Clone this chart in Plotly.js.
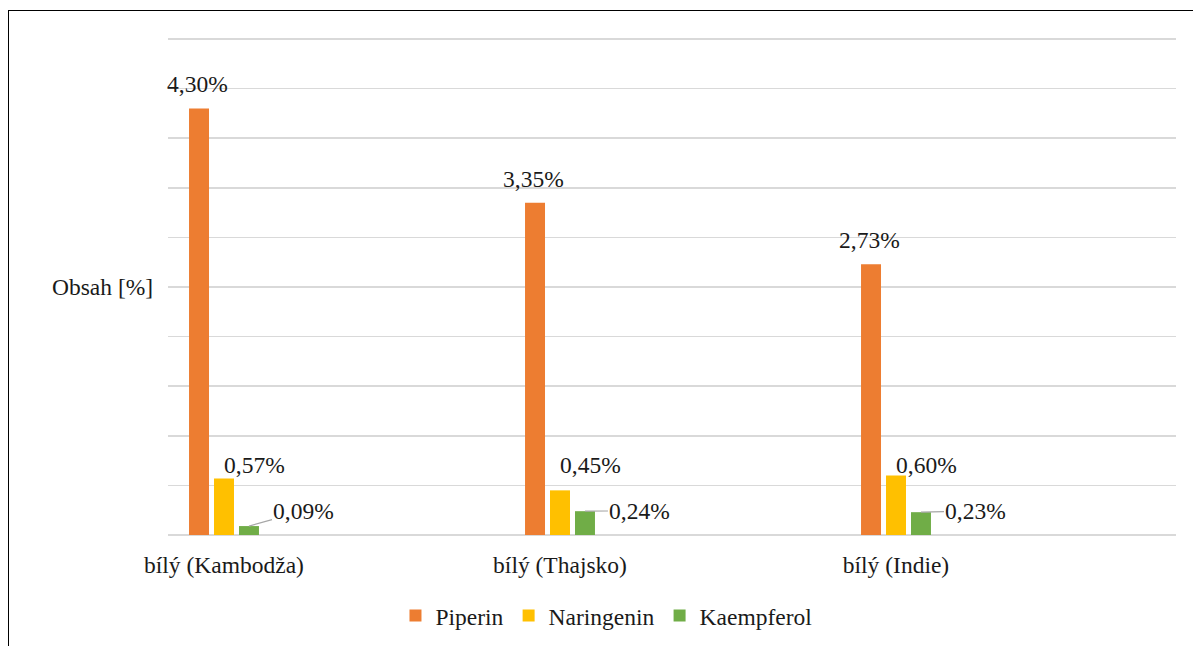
<!DOCTYPE html>
<html>
<head>
<meta charset="utf-8">
<script src="https://cdn.plot.ly/plotly-3.0.1.min.js"></script>
<style>
  html, body { margin: 0; padding: 0; background: #fff; }
  #wrap { position: relative; width: 1193px; height: 646px; overflow: hidden; }
  #chart { position: absolute; left: 0; top: 0; width: 1193px; height: 646px; }
  #frame { position: absolute; left: 8px; top: 10px; width: 1400px; height: 900px;
           border-top: 1.5px solid #000; border-left: 1.5px solid #000; pointer-events: none; }
</style>
</head>
<body>
<div id="wrap">
  <div id="chart"></div>
  <div id="frame"></div>
</div>
<script>
// Obsah sledovaných látek v bílém pepři podle původu
const categories = ['bílý (Kambodža)', 'bílý (Thajsko)', 'bílý (Indie)'];
const seriesNames = ['Piperin', 'Naringenin', 'Kaempferol'];
const piperin = [4.30, 3.35, 2.73];
const naringenin = [0.57, 0.45, 0.60];
const kaempferol = [0.09, 0.24, 0.23];
const colors = ['#ED7D31', '#FFC000', '#70AD47'];

const FONT = 'Liberation Serif, serif';
const FS = 23.5;
const BARGAP = 0.777;
const GROUPGAP = 0.2;

const seriesValues = [piperin, naringenin, kaempferol];
const fmt = v => v.toFixed(2).replace('.', ',') + '%';

const traces = seriesValues.map((vals, s) => ({
  type: 'bar',
  name: seriesNames[s],
  x: categories,
  y: vals,
  marker: { color: colors[s] },
  hoverinfo: 'skip'
}));

// horizontal offset of each bar inside its group, in category units
const slot = (1 - BARGAP) / seriesValues.length;
const offsetOf = s => (s - (seriesValues.length - 1) / 2) * slot;

const annotations = [];
categories.forEach((c, i) => {
  // Piperin: centred above the bar
  annotations.push({
    x: i + offsetOf(0), y: piperin[i], xref: 'x', yref: 'y',
    text: fmt(piperin[i]), showarrow: false,
    xanchor: 'center', yanchor: 'middle', yshift: 24, xshift: -1.5,
    font: { family: FONT, size: FS, color: '#1a1a1a' }
  });
  // Naringenin: right of the bar top
  annotations.push({
    x: i + offsetOf(1), y: 0.705, xref: 'x', yref: 'y',
    text: fmt(naringenin[i]), showarrow: false,
    xanchor: 'center', yanchor: 'middle', xshift: 30,
    font: { family: FONT, size: FS, color: '#1a1a1a' }
  });
  // Kaempferol: label with a leader line to the bar top
  annotations.push({
    x: i + offsetOf(2), y: kaempferol[i], xref: 'x', yref: 'y',
    text: fmt(kaempferol[i]), showarrow: true,
    arrowhead: 0, arrowwidth: 1.2, arrowcolor: '#a6a6a6', standoff: 0,
    ax: 55, ay: 0.245, axref: 'pixel', ayref: 'y',
    font: { family: FONT, size: FS, color: '#1a1a1a' }
  });
});

// vertical axis caption
annotations.push({
  xref: 'paper', yref: 'y', x: -0.065, y: 2.5,
  xanchor: 'center', yanchor: 'middle',
  text: 'Obsah [%]', showarrow: false,
  font: { family: FONT, size: FS, color: '#1a1a1a' }
});

const layout = {
  width: 1193, height: 646,
  margin: { l: 168, r: 17, t: 34, b: 111, autoexpand: false },
  paper_bgcolor: '#fff', plot_bgcolor: '#fff',
  barmode: 'group', bargap: BARGAP, bargroupgap: GROUPGAP,
  font: { family: FONT, size: FS, color: '#1a1a1a' },
  xaxis: {
    type: 'category',
    range: [-1 / 6, 3 - 1 / 6],
    showgrid: false, zeroline: false, showline: false,
    ticks: '', ticklabelstandoff: 13,
    tickfont: { family: FONT, size: FS, color: '#1a1a1a' }
  },
  yaxis: {
    range: [0, 5.05], dtick: 0.5, tick0: 0,
    showticklabels: false, ticks: '',
    gridcolor: '#d9d9d9', gridwidth: 1.5,
    zeroline: true, zerolinecolor: '#d9d9d9', zerolinewidth: 1.5,
    showline: false
  },
  showlegend: true,
  legend: {
    orientation: 'h', x: 0.435, y: -0.161, xanchor: 'center', yanchor: 'middle',
    font: { family: FONT, size: FS, color: '#1a1a1a' },
    traceorder: 'normal'
  },
  annotations: annotations
};

Plotly.newPlot('chart', traces, layout, { staticPlot: true });
</script>
</body>
</html>
